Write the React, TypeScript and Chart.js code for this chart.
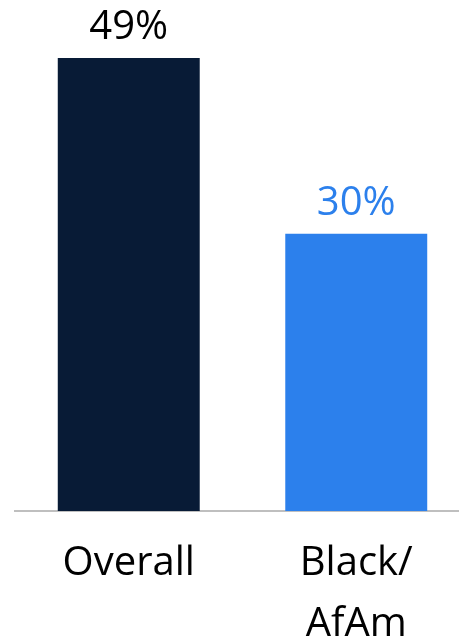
import React, { useEffect, useRef } from "react";
import { Chart, registerables } from "chart.js";

Chart.register(...registerables);

const categories: (string | string[])[] = ["Overall", ["Black/", "AfAm"]];
const values: number[] = [49, 30];
const valueLabels: string[] = ["49%", "30%"];
const barColors: string[] = ["#081b36", "#2c80ec"];
const labelColors: string[] = ["#000000", "#2c80ec"];

const valueLabelPlugin = {
  id: "valueLabels",
  afterDatasetsDraw(chart: any) {
    const ctx = chart.ctx;
    const meta = chart.getDatasetMeta(0);
    ctx.save();
    ctx.font = "40px 'Open Sans'";
    ctx.textAlign = "center";
    ctx.textBaseline = "alphabetic";
    meta.data.forEach((bar: any, i: number) => {
      ctx.fillStyle = labelColors[i];
      ctx.fillText(valueLabels[i], bar.x, bar.y - 19);
    });
    ctx.restore();
  },
};

export default function App() {
  const ref = useRef<HTMLCanvasElement>(null);
  useEffect(() => {
    if (!ref.current) return;
    const chart = new Chart(ref.current, {
      type: "bar",
      data: {
        labels: categories as any,
        datasets: [
          {
            data: values,
            backgroundColor: barColors,
            barPercentage: 0.624,
            categoryPercentage: 1,
          },
        ],
      },
      options: {
        animation: false,
        responsive: false,
        maintainAspectRatio: false,
        layout: { padding: { top: 58, left: 15, right: 0, bottom: 0 } },
        plugins: { legend: { display: false }, tooltip: { enabled: false } },
        scales: {
          x: {
            grid: { display: false, drawTicks: false },
            border: { display: true, color: "#bfbfbf", width: 2 },
            ticks: {
              color: "#000000",
              padding: 22,
              font: { family: "'Open Sans'", size: 40, lineHeight: 1.525 },
              maxRotation: 0,
              autoSkip: false,
            },
            afterFit(scale: any) {
              scale.height = 130;
            },
          },
          y: {
            display: false,
            min: 0,
            max: 49,
          },
        },
      },
      plugins: [valueLabelPlugin],
    });
    return () => chart.destroy();
  }, []);
  return (
    <div
      style={{
        position: "fixed",
        left: 0,
        top: 0,
        width: 459,
        height: 641,
        overflow: "hidden",
        background: "#ffffff",
      }}
    >
      <canvas ref={ref} width={470} height={641} style={{ display: "block" }} />
    </div>
  );
}
